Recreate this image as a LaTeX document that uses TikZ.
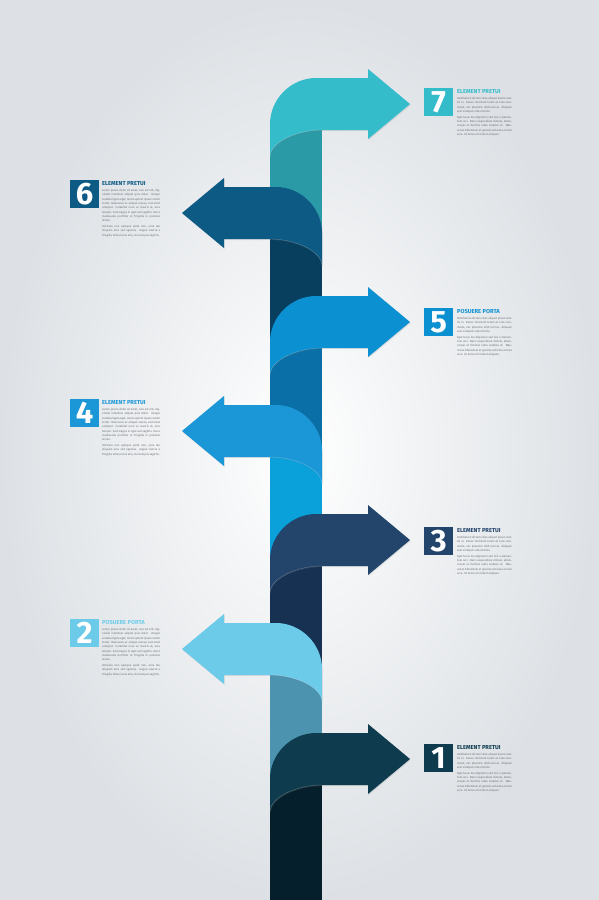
\documentclass[tikz,border=0pt]{standalone}
\usepackage{fontspec}
\setmainfont{Fira Sans}
\definecolor{Fond}{HTML}{DDE1E5}
\definecolor{Gris}{HTML}{6A6E72}
\definecolor{Clair7}{HTML}{35BCCB}
\definecolor{Fonce7}{HTML}{2A9AA6}
\definecolor{Clair6}{HTML}{0D5A84}
\definecolor{Fonce6}{HTML}{083F5F}
\definecolor{Clair5}{HTML}{0B90D1}
\definecolor{Fonce5}{HTML}{0A6FA6}
\definecolor{Clair4}{HTML}{1B96D7}
\definecolor{Fonce4}{HTML}{0AA0DA}
\definecolor{Clair3}{HTML}{23446B}
\definecolor{Fonce3}{HTML}{163152}
\definecolor{Clair2}{HTML}{6DCBEA}
\definecolor{Fonce2}{HTML}{4B93AE}
\definecolor{Clair1}{HTML}{0E3C4E}
\definecolor{Fonce1}{HTML}{05202C}
\usetikzlibrary{shadows}
\newcommand{\Fleche}{(0,53) -- (0,20) .. controls (0,-5) and (21,-26) .. (46,-26) -- (98,-26) -- (98,-35) -- (140,0) -- (98,35) -- (98,26) -- (52,26) .. controls (27,26) and (0,38) .. (0,53) -- cycle}
\newcommand{\Pli}{(52,26) .. controls (27,26) and (0,38) .. (0,53)}
\newcommand{\Corps}{\fontsize{4}{6.2}\selectfont}
\newcommand{\TexteDroite}{Vestibulum dictum vitae aliquet ipsum mattis in. Donec tincidunt lorem at eros commodo, nec pharetra nibh lacinia. Aliquam erat volutpat nulla facilisi.\par\vspace{2pt}Eget lacus leo dignissim sed nisi a elementum orci. Nam suspendisse dictum, ullamcorper ut facilisis nulla sodales at. Maecenas bibendum et gravida vehicula ornare arcu. Ut luctus tincidunt aliquam.}
\newcommand{\TexteGauche}{Lorem ipsum dolor sit amet, cras est elit, dignissim interdum aliquet quis dolor. Integer sodales ligula eget, lorem aptent ipsum morbi tortor. Maecenas ac aliquet massa, sed amet volutpat. Curabitur nunc ac mauris ut, arcu tempor. Sed magna in eget sed sagittis. Nunc malesuada porttitor ut fringilla in pulvinar luctus.\par\vspace{2pt}Vehicula non quisque pede non, urna leo aliquam arcu sed egestas. Augue viverra a fringilla tellus lacus aliq. Dui tempus sagittis.}
\tikzset{
  numero/.style={anchor=north west, minimum width=1.45cm, minimum height=1.4cm, inner sep=0, text=white, font=\fontsize{44}{44}\selectfont\bfseries},
  titre/.style={anchor=base west, inner sep=0, font=\fontsize{8.2}{8.2}\selectfont\bfseries},
  texte/.style={anchor=north west, inner sep=0, align=justify, text=Gris, font=\Corps}
}

\begin{document}
\begin{tikzpicture}[x=0.05cm, y=-0.05cm]
  % Fond
  \shade[inner color=white, outer color=Fond] (0,0) rectangle (599,900);
  \useasboundingbox (0,0) rectangle (599,900);
  % Tige et fleches, de haut en bas
  \foreach \y/\d/\n in {104/1/7, 213/-1/6, 322/1/5, 431/-1/4, 540/1/3, 649/-1/2, 759/1/1} {
    \begin{scope}[shift={({296-26*\d},\y)}, xscale=\d]
      \fill[Fonce\n] (0,26) rectangle (52,145);
      \fill[Clair\n, drop shadow={opacity=0.18, shadow xshift=1pt, shadow yshift=-1.5pt}] \Fleche;
      \draw[white, opacity=0.35, line width=0.4] \Pli;
    \end{scope}
  }
  % Blocs de texte a droite
  \foreach \n/\y/\ttl in {7/88/ELEMENT PRETUI, 5/308/POSUERE PORTA, 3/527/ELEMENT PRETUI, 1/744/ELEMENT PRETUI} {
    \node[numero, fill=Clair\n] (num\n) at (424,\y) {\n};
    \node[titre, text=Clair\n] (titre\n) at (457,\y+5) {\ttl};
    \node[texte, text width=2.75cm] (texte\n) at (457,\y+9) {\TexteDroite};
  }
  % Blocs de texte a gauche
  \foreach \n/\y/\ttl in {6/180/ELEMENT PRETUI, 4/399/ELEMENT PRETUI, 2/619/POSUERE PORTA} {
    \node[numero, fill=Clair\n] (num\n) at (70,\y) {\n};
    \node[titre, text=Clair\n] (titre\n) at (102,\y+5) {\ttl};
    \node[texte, text width=2.9cm] (texte\n) at (102,\y+9) {\TexteGauche};
  }
\end{tikzpicture}
\end{document}
